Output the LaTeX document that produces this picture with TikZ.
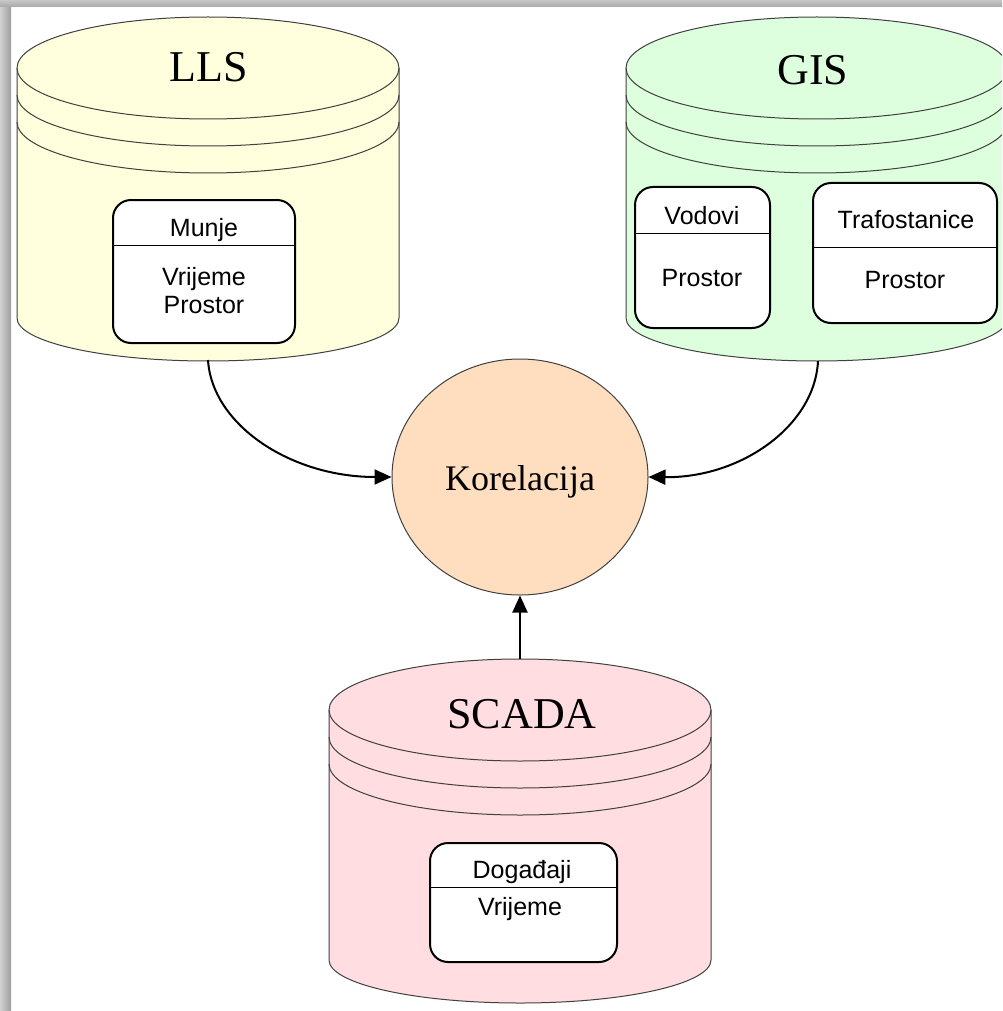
\documentclass[tikz,border=0pt]{standalone}
\usepackage{fontspec}
\setmainfont{Liberation Serif}
\newfontfamily\arialfont{Liberation Sans}
\usetikzlibrary{arrows.meta,shapes.geometric}
\definecolor{llsfill}{RGB}{255,255,221}
\definecolor{gisfill}{RGB}{221,255,221}
\definecolor{scadafill}{RGB}{255,221,224}
\definecolor{korfill}{RGB}{254,222,190}
\tikzset{
  baza/.style={draw=black!75, line width=1pt},
  rub/.style={x radius=191, y radius=51},
  dno/.style={x radius=191, y radius=43},
  naslov/.style={font=\fontsize{44}{48}\selectfont, anchor=base, inner sep=0pt},
  entitet/.style={draw, line width=2pt, rounded corners=18pt, fill=white, inner sep=0pt},
  polje/.style={font=\arialfont\fontsize{25}{29}\selectfont, anchor=base, inner sep=0pt},
  veza/.style={line width=2pt, -{Triangle[length=17pt,width=15pt]}}
}
\begin{document}
\begin{tikzpicture}[x=1pt,y=-1pt]
\clip (0,0) rectangle (1002,1011);
\fill[white] (0,0) rectangle (1002,1011);

% LLS
\draw[baza, fill=llsfill] (17,68) arc[rub, start angle=180, end angle=360] -- (399,318) arc[dno, start angle=0, end angle=180] -- cycle;
\draw[baza] (17,68) arc[rub, start angle=180, end angle=0];
\draw[baza] (17,95) arc[rub, start angle=180, end angle=0];
\draw[baza] (17,122) arc[rub, start angle=180, end angle=0];
\node[naslov] (lls) at (209,82) {LLS};
\node[entitet, minimum width=182pt, minimum height=143pt] (munje) at (204,271.5) {};
\draw (munje.west |- 0,245) -- (munje.east |- 0,245);
\node[polje] (munjenaziv) at (204,236) {Munje};
\node[polje] (munjevrijeme) at (204,285) {Vrijeme};
\node[polje] (munjeprostor) at (204,313) {Prostor};

% GIS
\draw[baza, fill=gisfill] (626,68) arc[rub, start angle=180, end angle=360] -- (1008,318) arc[dno, start angle=0, end angle=180] -- cycle;
\draw[baza] (626,68) arc[rub, start angle=180, end angle=0];
\draw[baza] (626,95) arc[rub, start angle=180, end angle=0];
\draw[baza] (626,122) arc[rub, start angle=180, end angle=0];
\node[naslov] (gis) at (813,85) {GIS};
\node[entitet, minimum width=135pt, minimum height=141pt] (vodovi) at (702.5,257.5) {};
\draw (vodovi.west |- 0,233) -- (vodovi.east |- 0,233);
\node[polje] (vodovinaziv) at (702,224) {Vodovi};
\node[polje] (vodoviprostor) at (702,286) {Prostor};
\node[entitet, minimum width=184pt, minimum height=140pt] (trafo) at (905,253) {};
\draw (trafo.west |- 0,247) -- (trafo.east |- 0,247);
\node[polje] (trafonaziv) at (906,228) {Trafostanice};
\node[polje] (trafoprostor) at (905,288) {Prostor};

% SCADA
\draw[baza, fill=scadafill] (329,710) arc[rub, start angle=180, end angle=360] -- (711,960) arc[dno, start angle=0, end angle=180] -- cycle;
\draw[baza] (329,710) arc[rub, start angle=180, end angle=0];
\draw[baza] (329,737) arc[rub, start angle=180, end angle=0];
\draw[baza] (329,764) arc[rub, start angle=180, end angle=0];
\node[naslov] (scada) at (522,728) {SCADA};
\node[entitet, minimum width=187pt, minimum height=119pt] (dogadjaji) at (523.5,902.5) {};
\draw (dogadjaji.west |- 0,887) -- (dogadjaji.east |- 0,887);
\node[polje] (dogadjajinaziv) at (522,878) {Događaji};
\node[polje] (dogadjajivrijeme) at (520,915) {Vrijeme};

% Korelacija
\node[ellipse, baza, fill=korfill, minimum width=256pt, minimum height=236pt, inner sep=0pt] (korelacija) at (520,477) {};
\node[font=\fontsize{36}{40}\selectfont, anchor=base, inner sep=0pt] (korelacijatekst) at (520,490) {Korelacija};

% Strelice
\coordinate (llsizlaz) at (208,360);
\coordinate (gisizlaz) at (818,361);
\coordinate (scadaizlaz) at (520,659);
\draw[veza] (llsizlaz) .. controls (212,425) and (291,477) .. (korelacija.west);
\draw[veza] (gisizlaz) .. controls (815,425) and (742,478) .. (korelacija.east);
\draw[veza] (scadaizlaz) -- (korelacija.south);

% Sjena
\shade[left color=black!18, right color=black!38] (0,0) rectangle (11,1011);
\shade[top color=black!22, bottom color=black!34] (0,0) rectangle (1002,7);
\end{tikzpicture}
\end{document}
